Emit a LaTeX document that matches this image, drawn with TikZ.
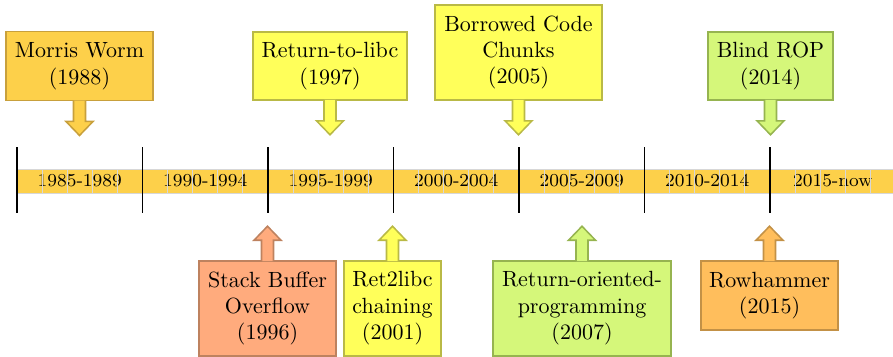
\documentclass[tikz,border=0pt]{standalone}
\usepackage{tikz}
\definecolor{cgold}{RGB}{253,208,74}
\definecolor{cgoldd}{RGB}{200,160,60}
\definecolor{cyel}{RGB}{255,255,90}
\definecolor{cyeld}{RGB}{185,185,70}
\definecolor{clime}{RGB}{213,247,122}
\definecolor{climed}{RGB}{150,180,80}
\definecolor{csal}{RGB}{255,171,125}
\definecolor{csald}{RGB}{190,130,95}
\definecolor{corg}{RGB}{255,190,92}
\definecolor{corgd}{RGB}{195,145,70}
\definecolor{gridc}{RGB}{215,215,215}
\newcommand\evdown[3]{\draw[line width=0.7pt, fill=#2, draw=#3, line join=miter]
  ([shift={(-6,-0.8)}]#1.south) -- ++(0,20.8) -- ++(-7.5,0) -- ++(13.5,14) -- ++(13.5,-14) -- ++(-7.5,0) -- ++(0,-20.8);}
\newcommand\evup[3]{\draw[line width=0.7pt, fill=#2, draw=#3, line join=miter]
  ([shift={(-6,0.8)}]#1.north) -- ++(0,-20.8) -- ++(-7.5,0) -- ++(13.5,-14) -- ++(13.5,14) -- ++(-7.5,0) -- ++(0,20.8);}
\begin{document}
\begin{tikzpicture}[x=0.4545pt,y=-0.4545pt,
  evbox/.style={draw, line width=0.7pt, align=center, inner sep=0pt,
    font=\fontsize{10}{12}\selectfont},
  wh/.style 2 args={minimum width=#1*0.4545pt, minimum height=#2*0.4545pt},
  period/.style={font=\fontsize{8.3}{10}\selectfont, inner sep=0pt},
  tickline/.style={black, line width=0.5pt},
  gridline/.style={gridc, line width=0.4pt}]
\useasboundingbox (0,0) rectangle (893,356);

% band
\fill[cgold] (17,169) rectangle (895.5,193);
\foreach \lab [count=\i from 0] in {1985-1989,1990-1994,1995-1999,2000-2004,2005-2009,2010-2014,2015-now}
  \node[period] (p\i) at (79.75+\i*125.5,181) {\lab};
\foreach \i in {0,...,35}
  \draw[gridline] (17+\i*25.1,169) -- (17+\i*25.1,193);
\draw[gridline] (17,169) -- (895.5,169);
\draw[gridline] (17,193) -- (895.5,193);
\foreach \i in {0,...,6}
  \draw[tickline] (17+\i*125.5,147) -- (17+\i*125.5,213);

% top events
\node[evbox, wh={147}{69}, fill=cgold, draw=cgoldd] (morris) at (79.5,66.2) {Morris Worm\\(1988)};
\evdown{morris}{cgold}{cgoldd}
\node[evbox, wh={154}{68}, fill=cyel, draw=cyeld] (rtl) at (330,66) {Return-to-libc\\(1997)};
\evdown{rtl}{cyel}{cyeld}
\node[evbox, wh={167}{95}, fill=cyel, draw=cyeld] (bcc) at (518.5,52.5) {Borrowed Code\\Chunks\\(2005)};
\evdown{bcc}{cyel}{cyeld}
\node[evbox, wh={125}{68}, fill=clime, draw=climed] (brop) at (770.5,66) {Blind ROP\\(2014)};
\evdown{brop}{clime}{climed}

% bottom events
\node[evbox, wh={137}{95}, fill=csal, draw=csald] (sbo) at (267.5,308.5) {Stack Buffer\\Overflow\\(1996)};
\evup{sbo}{csal}{csald}
\node[evbox, wh={97}{95}, fill=cyel, draw=cyeld] (r2c) at (392.5,308.5) {Ret2libc\\chaining\\(2001)};
\evup{r2c}{cyel}{cyeld}
\node[evbox, wh={178}{95}, fill=clime, draw=climed] (rop) at (582,308.5) {Return-oriented-\\programming\\(2007)};
\evup{rop}{clime}{climed}
\node[evbox, wh={137}{69}, fill=corg, draw=corgd] (rowh) at (769.5,295.5) {Rowhammer\\(2015)};
\evup{rowh}{corg}{corgd}
\end{tikzpicture}
\end{document}
